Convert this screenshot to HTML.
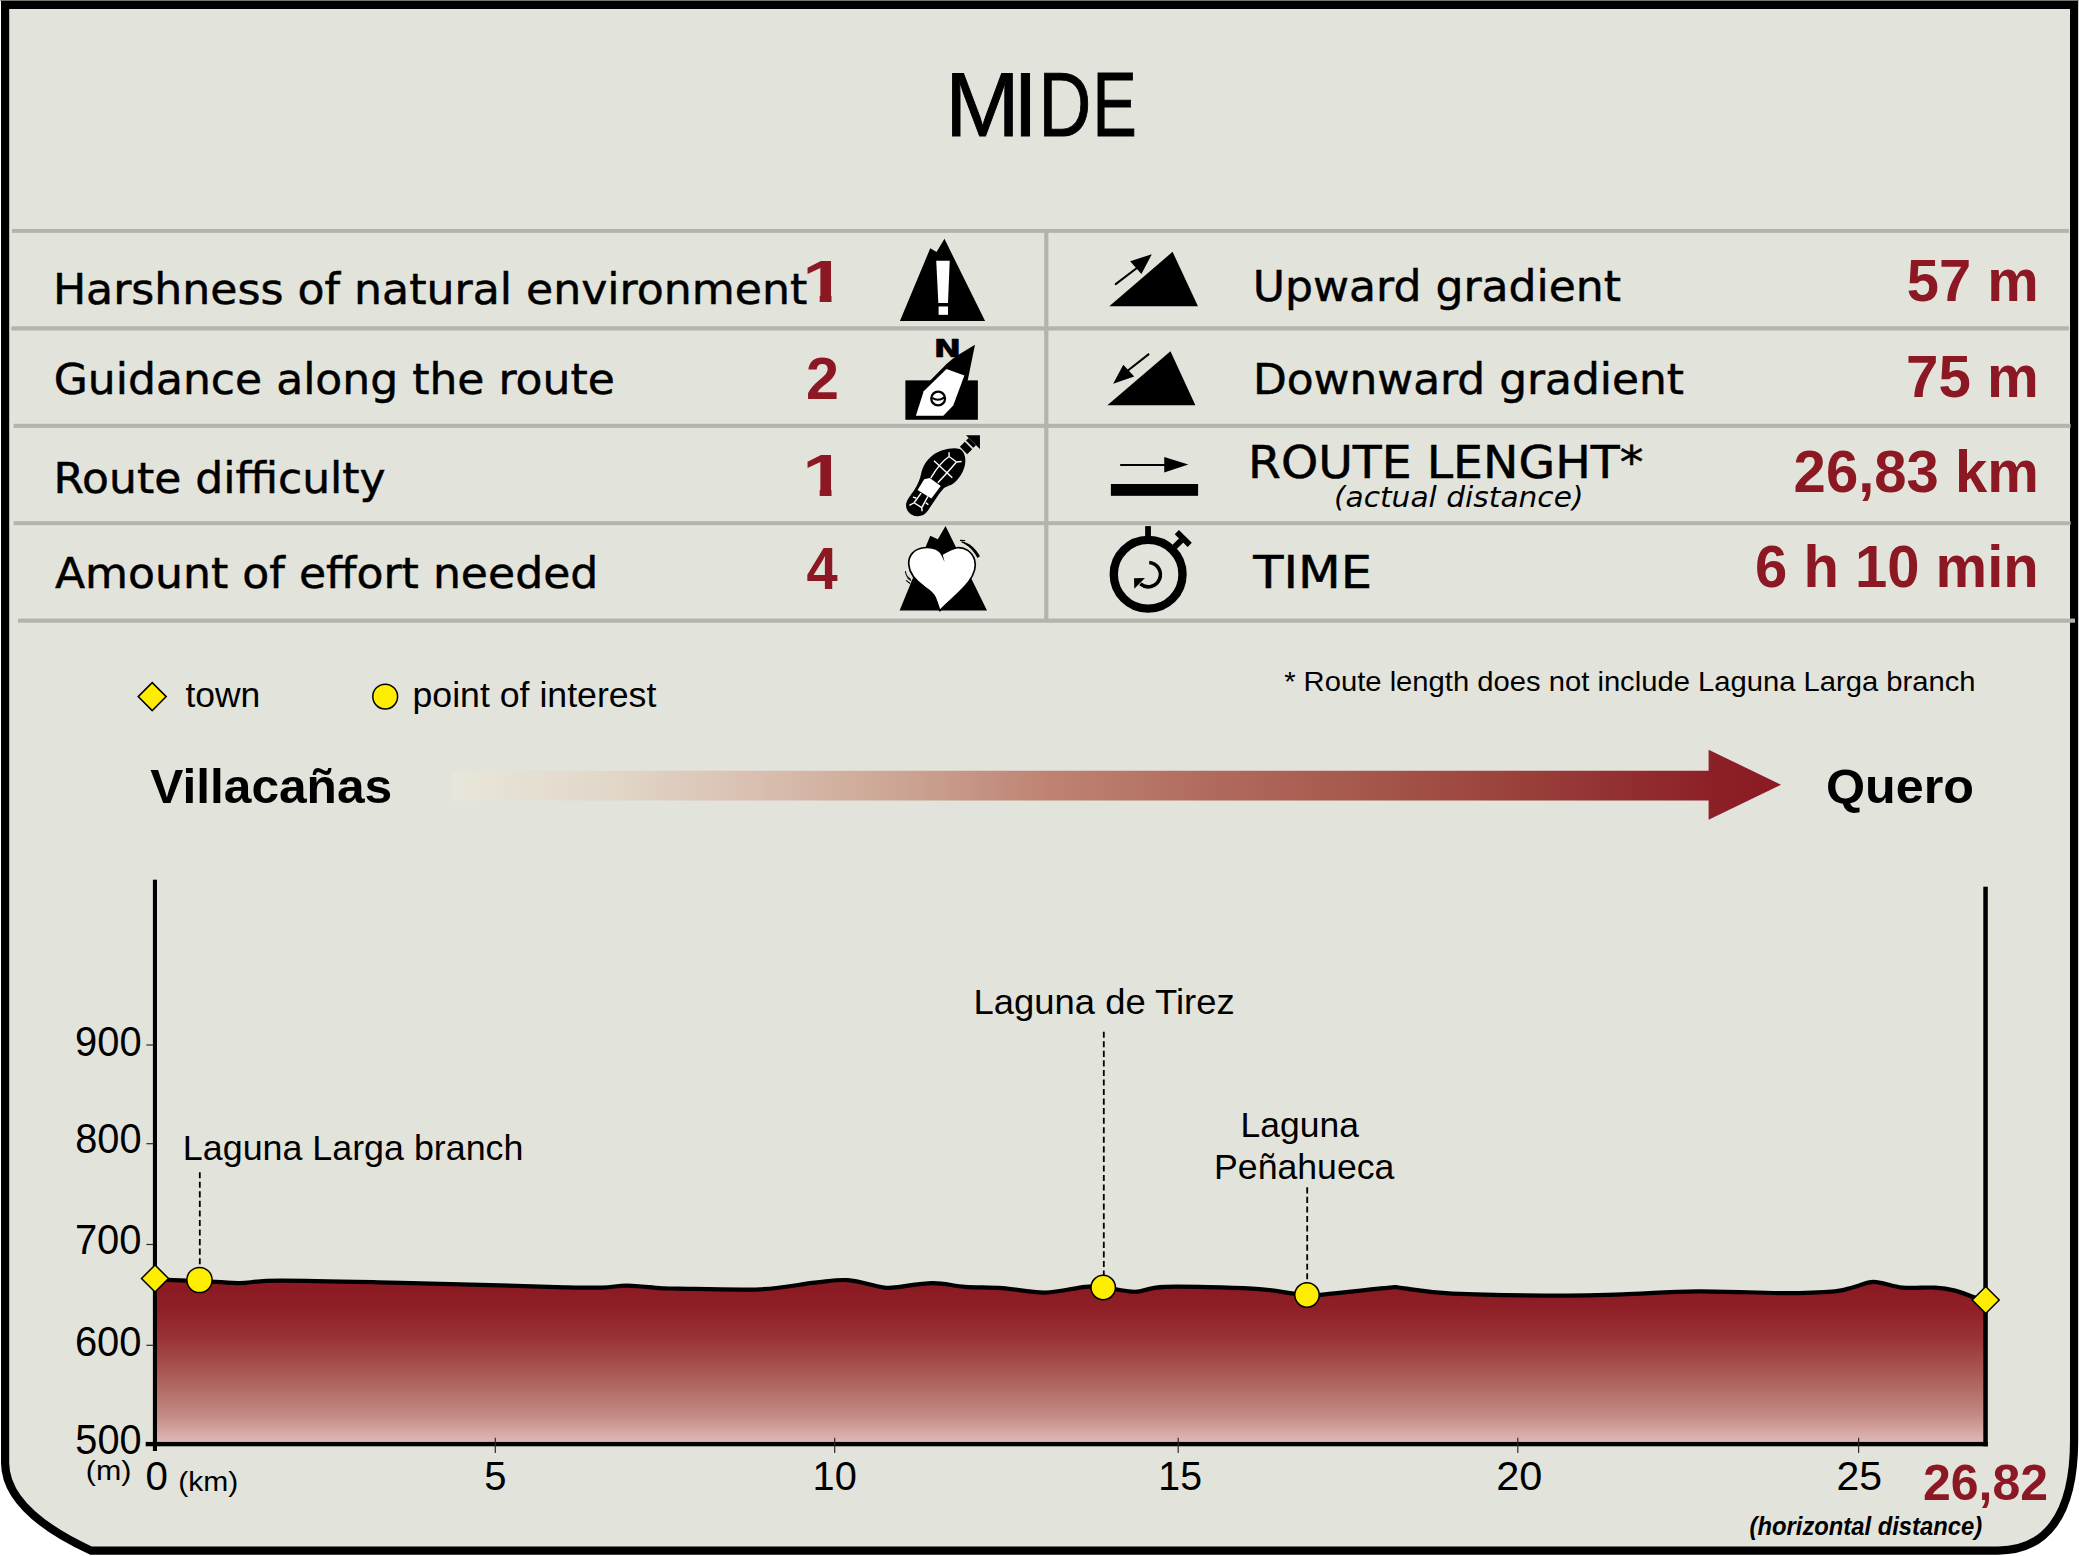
<!DOCTYPE html>
<html lang="en">
<head>
<meta charset="utf-8">
<title>MIDE</title>
<style>
html,body{margin:0;padding:0;background:#fff;}
body{width:2079px;height:1556px;overflow:hidden;}
svg{display:block;}
text{white-space:pre;}
.v{font-family:"DejaVu Sans","Liberation Sans",sans-serif;fill:#000;stroke:#000;stroke-width:0.5px;}
.vi{font-family:"DejaVu Sans","Liberation Sans",sans-serif;font-style:italic;fill:#000;}
.a{font-family:"Liberation Sans","DejaVu Sans",sans-serif;fill:#000;}
.r{font-family:"Liberation Sans","DejaVu Sans",sans-serif;font-weight:bold;fill:#8c1823;}
.b{font-family:"Liberation Sans","DejaVu Sans",sans-serif;font-weight:bold;fill:#000;}
.vb{font-family:"DejaVu Sans","Liberation Sans",sans-serif;font-weight:bold;fill:#000;}
.bi{font-family:"Liberation Sans","DejaVu Sans",sans-serif;font-weight:bold;font-style:italic;fill:#000;}
</style>
</head>
<body>
<svg width="2079" height="1556" viewBox="0 0 2079 1556">
<defs>
<linearGradient id="garrow" gradientUnits="userSpaceOnUse" x1="452" y1="0" x2="1781" y2="0">
<stop offset="0" stop-color="#e8e6da"/>
<stop offset="0.113" stop-color="#e2d8ca"/>
<stop offset="0.226" stop-color="#d9c0b1"/>
<stop offset="0.339" stop-color="#cca493"/>
<stop offset="0.451" stop-color="#be8272"/>
<stop offset="0.576" stop-color="#b06a5d"/>
<stop offset="0.700" stop-color="#a4554a"/>
<stop offset="0.824" stop-color="#983c38"/>
<stop offset="0.948" stop-color="#8c2027"/>
<stop offset="1" stop-color="#8b1a23"/>
</linearGradient>
<linearGradient id="gfill" gradientUnits="userSpaceOnUse" x1="0" y1="1287" x2="0" y2="1442">
<stop offset="0" stop-color="#8c1a23"/>
<stop offset="0.15" stop-color="#8f2028"/>
<stop offset="0.34" stop-color="#9a3437"/>
<stop offset="0.50" stop-color="#a5504c"/>
<stop offset="0.66" stop-color="#b36b66"/>
<stop offset="0.83" stop-color="#c58b85"/>
<stop offset="1" stop-color="#deb9b7"/>
</linearGradient>
</defs>

<!-- frame -->
<rect x="0" y="0" width="2079" height="1" fill="#9a9a96"/>
<path d="M5.1,4.8 H2074.1 V1440 C2074.1,1518 2044,1550.6 1998,1550.6 H91 Q5.6,1511 5.1,1463 Z" fill="#e2e3db" stroke="#000" stroke-width="8.2" stroke-linejoin="miter"/>
<!-- table lines -->
<g fill="#b3b4ad">
<rect x="12" y="229" width="2057" height="3.9"/>
<rect x="11.4" y="326.3" width="2057.4" height="4.2"/>
<rect x="13.6" y="423.8" width="2057" height="4.1"/>
<rect x="13.6" y="521.2" width="2057" height="3.9"/>
<rect x="18" y="618.6" width="2057" height="4.1"/>
<rect x="1044.2" y="231" width="4.2" height="390"/>
</g>
<!-- title -->
<text class="a" font-size="90" y="135.6" stroke="#000" stroke-width="1"><tspan x="945.20" textLength="74.41" lengthAdjust="spacingAndGlyphs">M</tspan><tspan x="1013.30" textLength="24.41" lengthAdjust="spacingAndGlyphs">I</tspan><tspan x="1038.43" textLength="52.75" lengthAdjust="spacingAndGlyphs">D</tspan><tspan x="1092.48" textLength="44.24" lengthAdjust="spacingAndGlyphs">E</tspan></text>
<!-- table text -->
<text class="v" font-size="43" transform="translate(52.89,303.60) scale(1.0273,1)">Harshness of natural environment</text>
<text class="v" font-size="43" transform="translate(53.74,393.90) scale(1.0243,1)">Guidance along the route</text>
<text class="v" font-size="43" transform="translate(53.50,492.60) scale(1.0238,1)">Route difficulty</text>
<text class="v" font-size="43" transform="translate(54.89,588.20) scale(1.0264,1)">Amount of effort needed</text>
<clipPath id="c1a"><path d="M800,246.89999999999998 H831.5 V305.9 H819.7 V288.9 H800 Z"/></clipPath><g clip-path="url(#c1a)"><text class="r" font-size="58.6" transform="translate(802.15,301.90) scale(1.3250,1)">1</text></g>
<text class="r" font-size="58.6" transform="translate(806.08,398.90) scale(1.0124,1)">2</text>
<clipPath id="c1b"><path d="M800,441.2 H831.5 V500.2 H819.7 V483.2 H800 Z"/></clipPath><g clip-path="url(#c1b)"><text class="r" font-size="58.6" transform="translate(802.15,496.20) scale(1.3250,1)">1</text></g>
<text class="r" font-size="58.6" transform="translate(806.59,589.10) scale(0.9571,1)">4</text>
<text class="v" font-size="43" transform="translate(1252.81,300.50) scale(1.0254,1)">Upward gradient</text>
<text class="v" font-size="43" transform="translate(1252.91,393.50) scale(1.0212,1)">Downward gradient</text>
<text class="v" font-size="44" transform="translate(1247.97,478.00) scale(1.0767,1)">ROUTE LENGHT*</text>
<text class="vi" font-size="28.5" transform="translate(1333.96,507.30) scale(1.0405,1)">(actual distance)</text>
<text class="v" font-size="45" transform="translate(1253.27,588.20) scale(1.1001,1)">TIME</text>
<text class="r" font-size="58.6" transform="translate(1906.72,301.10) scale(0.9887,1)">57 m</text>
<text class="r" font-size="58.6" transform="translate(1906.01,396.50) scale(0.9941,1)">75 m</text>
<text class="r" font-size="58.6" transform="translate(1793.62,492.40) scale(0.9901,1)">26,83 km</text>
<text class="r" font-size="58.6" transform="translate(1755.12,587.40) scale(0.9897,1)">6 h 10 min</text>
<!-- icon: harshness (mountain with exclamation) -->
<g transform="translate(880,230) scale(0.064261)">
<polygon points="310,1415 1635,1415 1003,138 880,342 782,285" fill="#000"/>
<polygon points="875,480 1085,480 1058,1135 908,1135" fill="#fff"/>
<rect x="912" y="1190" width="146" height="130" fill="#fff"/>
</g>
<!-- icon: guidance (compass) -->
<g transform="translate(880,328) scale(0.064261)">
<rect x="395" y="815" width="1128" height="613" fill="#000"/>
<path d="M1478,262 L1215,422 Q1110,490 1035,560 L770,830 L1362,830 Z" fill="#000"/>
<polygon points="1035,638 1313,738 1140,1205 985,1365 558,1365 680,985" fill="#fff"/>
<circle cx="905" cy="1097" r="107" fill="#fff" stroke="#000" stroke-width="36"/>
<path d="M812,1088 Q905,1150 1000,1080" fill="none" stroke="#000" stroke-width="32"/>
</g>
<text class="vb" font-size="24.8" transform="translate(933.74,356.90) scale(1.3169,1)" stroke="#000" stroke-width="0.7">N</text>
<!-- icon: route difficulty (boot sole) -->
<g transform="translate(880,425) scale(0.064261)">
<path d="M1240,372 C1300,400 1340,480 1325,600 C1310,720 1230,850 1130,920 C1080,950 1010,960 970,1010 C900,1090 800,1250 740,1340 C700,1400 640,1425 570,1420 C470,1410 400,1330 405,1240 C410,1170 480,1090 540,1000 C590,920 620,850 640,760 C660,650 720,550 820,470 C920,400 1100,340 1240,372 Z" fill="#000"/>
<polygon points="1243,338 1320,262 1435,378 1357,454" fill="#000"/>
<polygon points="1338.5,242.5 1380.5,200.5 1493.5,313.5 1451.5,355.5" fill="#000"/>
<polygon points="1338,158 1555,158 1555,375" fill="#000"/>
<g fill="none" stroke="#fff" stroke-width="22">
<path d="M1075,490 Q930,590 790,825"/>
<path d="M1190,575 Q1050,740 900,900"/>
<path d="M1075,490 L1190,575"/>
<path d="M1075,490 L1075,425"/>
<path d="M1190,575 L1270,568"/>
<path d="M840,555 L1125,820"/>
<path d="M640,1060 L530,1210"/>
<path d="M745,1110 L650,1285"/>
<path d="M530,1210 L650,1285"/>
<path d="M530,1210 L458,1252"/>
<path d="M650,1285 L655,1342"/>
<path d="M512,1122 L562,1136"/>
<path d="M712,1208 L752,1242"/>
</g>
<polygon points="688,845 775,825 945,950 800,1145 585,1012" fill="#fff"/>
</g>
<!-- icon: effort (heart on mountain) -->
<g transform="translate(880,520) scale(0.064261)">
<polygon points="305,1410 1665,1410 1020,92 900,300 782,245" fill="#000"/>
<path d="M965,535 C900,440 780,420 680,432 C520,452 440,560 447,690 C455,830 560,950 700,1050 C790,1110 830,1140 860,1210 C890,1280 910,1350 930,1412 C1050,1280 1250,1130 1380,960 C1470,840 1500,720 1472,620 C1430,490 1320,420 1200,432 C1120,442 1040,490 965,535 Z" fill="#fff" stroke="#000" stroke-width="26" stroke-linejoin="round"/>
<path d="M945,530 L975,535 L1005,655 Z" fill="#000"/>
<path d="M1266,330 C1385,352 1485,430 1556,565 L1515,590 C1450,470 1370,392 1268,352 Z" fill="#000"/>
<path d="M1245,318 L1325,322" fill="none" stroke="#000" stroke-width="18"/>
<path d="M395,795 C400,850 430,900 480,925" fill="none" stroke="#000" stroke-width="16"/>
<path d="M405,940 L470,988" fill="none" stroke="#000" stroke-width="18"/>
<path d="M425,905 L490,950" fill="none" stroke="#000" stroke-width="14"/>
</g>
<!-- icon: upward gradient -->
<g transform="translate(1090,235) scale(0.064261)">
<polygon points="300,1108 1680,1108 1285,262" fill="#000"/>
<path d="M400,765 L760,490" stroke="#000" stroke-width="32" stroke-linecap="round" fill="none"/>
<polygon points="625,408 962,298 800,605" fill="#000"/>
</g>
<!-- icon: downward gradient -->
<g transform="translate(1090,330) scale(0.064261)">
<polygon points="270,1170 1640,1170 1252,330" fill="#000"/>
<path d="M920,372 L590,630" stroke="#000" stroke-width="32" stroke-linecap="butt" fill="none"/>
<polygon points="518,540 688,725 360,835" fill="#000"/>
</g>
<!-- icon: route length -->
<g transform="translate(1090,425) scale(0.064261)">
<path d="M482,622 L1160,622" stroke="#000" stroke-width="32" stroke-linecap="round" fill="none"/>
<polygon points="1155,498 1530,615 1155,738" fill="#000"/>
<rect x="325" y="918" width="1357" height="184" fill="#000"/>
</g>
<!-- icon: time (stopwatch) -->
<g transform="translate(1090,520) scale(0.064261)">
<circle cx="905" cy="845" r="535" fill="none" stroke="#000" stroke-width="130"/>
<rect x="858" y="95" width="90" height="200" fill="#000"/>
<path d="M1317,418 L1420,316" stroke="#000" stroke-width="92" fill="none"/>
<path d="M1351,190 L1552,388" stroke="#000" stroke-width="92" fill="none"/>
<path d="M921.6,660.7 A190,190 0 1 1 782.9,995.5" fill="none" stroke="#000" stroke-width="55"/>
<polygon points="685,905 855,902 690,1070" fill="#000"/>
</g>

<!-- legend -->
<path d="M152.2,682.6 L166.2,696.6 L152.2,710.6 L138.2,696.6 Z" fill="#ffed00" stroke="#000" stroke-width="1.5"/>
<circle cx="385.2" cy="696.6" r="12.4" fill="#ffed00" stroke="#000" stroke-width="1.5"/>
<text class="a" font-size="35" transform="translate(185.39,706.70) scale(1.0134,1)">town</text>
<text class="a" font-size="35" transform="translate(412.51,706.70) scale(1.0192,1)">point of interest</text>
<text class="a" font-size="28.5" transform="translate(1284.14,691.20) scale(1.0248,1)">* Route length does not include Laguna Larga branch</text>
<!-- direction arrow -->
<text class="b" font-size="49" transform="translate(150.20,802.60) scale(1.0133,1)">Villacañas</text>
<text class="b" font-size="49" transform="translate(1825.95,802.80) scale(1.0256,1)">Quero</text>
<path d="M452,770.7 H1708.6 V749.7 L1781,784.7 L1708.6,819.7 V800.5 H452 Z" fill="url(#garrow)"/>
<!-- elevation chart -->
<path d="M155.0,1279.3 C165.0,1279.7 200.8,1281.2 215.0,1281.8 C229.2,1282.4 229.2,1283.3 240.0,1283.1 C250.8,1282.9 255.0,1280.7 280.0,1280.6 C305.0,1280.5 355.0,1281.8 390.0,1282.6 C425.0,1283.3 460.8,1284.3 490.0,1285.1 C519.2,1285.9 546.2,1286.9 565.0,1287.3 C583.8,1287.7 592.1,1287.9 602.5,1287.6 C612.9,1287.3 617.9,1285.5 627.5,1285.6 C637.1,1285.7 651.7,1287.6 660.0,1288.1 C668.3,1288.6 660.8,1288.4 677.5,1288.6 C694.2,1288.8 737.1,1290.3 760.0,1289.3 C782.9,1288.3 800.4,1284.1 815.0,1282.6 C829.6,1281.1 836.7,1279.4 847.5,1280.1 C858.3,1280.8 872.5,1285.5 880.0,1286.8 C887.5,1288.0 883.8,1288.2 892.5,1287.6 C901.2,1287.0 920.4,1283.2 932.5,1283.1 C944.6,1283.0 953.3,1286.0 965.0,1286.8 C976.7,1287.6 989.2,1287.1 1002.5,1288.1 C1015.8,1289.1 1031.2,1292.8 1045.0,1292.6 C1058.8,1292.4 1075.3,1287.7 1085.0,1286.8 C1094.7,1285.9 1094.7,1286.3 1103.0,1287.1 C1111.3,1287.9 1124.7,1291.8 1135.0,1291.8 C1145.3,1291.8 1145.4,1287.3 1165.0,1286.8 C1184.6,1286.3 1231.7,1287.5 1252.5,1288.6 C1273.3,1289.6 1280.9,1292.0 1290.0,1293.1 C1299.1,1294.2 1301.2,1294.9 1307.0,1295.1 C1312.8,1295.3 1311.2,1295.5 1325.0,1294.3 C1338.8,1293.0 1377.1,1288.6 1390.0,1287.6 C1402.9,1286.6 1392.1,1287.1 1402.5,1288.1 C1412.9,1289.1 1425.4,1292.3 1452.5,1293.6 C1479.6,1294.8 1536.7,1295.5 1565.0,1295.6 C1593.3,1295.7 1600.4,1295.0 1622.5,1294.3 C1644.6,1293.6 1670.4,1291.5 1697.5,1291.3 C1724.6,1291.1 1762.1,1293.1 1785.0,1293.1 C1807.9,1293.1 1823.3,1292.3 1835.0,1291.3 C1846.7,1290.2 1848.5,1288.4 1855.0,1286.8 C1861.5,1285.2 1865.8,1281.7 1873.7,1281.8 C1881.6,1281.9 1892.3,1286.6 1902.5,1287.6 C1912.7,1288.6 1926.2,1287.1 1935.0,1287.6 C1943.8,1288.1 1948.3,1288.9 1955.0,1290.6 C1961.7,1292.3 1969.9,1295.9 1975.0,1297.6 C1980.1,1299.3 1983.9,1300.1 1985.7,1300.6 L1985.7,1444 L155,1444 Z" fill="url(#gfill)"/>
<path d="M155.0,1279.3 C165.0,1279.7 200.8,1281.2 215.0,1281.8 C229.2,1282.4 229.2,1283.3 240.0,1283.1 C250.8,1282.9 255.0,1280.7 280.0,1280.6 C305.0,1280.5 355.0,1281.8 390.0,1282.6 C425.0,1283.3 460.8,1284.3 490.0,1285.1 C519.2,1285.9 546.2,1286.9 565.0,1287.3 C583.8,1287.7 592.1,1287.9 602.5,1287.6 C612.9,1287.3 617.9,1285.5 627.5,1285.6 C637.1,1285.7 651.7,1287.6 660.0,1288.1 C668.3,1288.6 660.8,1288.4 677.5,1288.6 C694.2,1288.8 737.1,1290.3 760.0,1289.3 C782.9,1288.3 800.4,1284.1 815.0,1282.6 C829.6,1281.1 836.7,1279.4 847.5,1280.1 C858.3,1280.8 872.5,1285.5 880.0,1286.8 C887.5,1288.0 883.8,1288.2 892.5,1287.6 C901.2,1287.0 920.4,1283.2 932.5,1283.1 C944.6,1283.0 953.3,1286.0 965.0,1286.8 C976.7,1287.6 989.2,1287.1 1002.5,1288.1 C1015.8,1289.1 1031.2,1292.8 1045.0,1292.6 C1058.8,1292.4 1075.3,1287.7 1085.0,1286.8 C1094.7,1285.9 1094.7,1286.3 1103.0,1287.1 C1111.3,1287.9 1124.7,1291.8 1135.0,1291.8 C1145.3,1291.8 1145.4,1287.3 1165.0,1286.8 C1184.6,1286.3 1231.7,1287.5 1252.5,1288.6 C1273.3,1289.6 1280.9,1292.0 1290.0,1293.1 C1299.1,1294.2 1301.2,1294.9 1307.0,1295.1 C1312.8,1295.3 1311.2,1295.5 1325.0,1294.3 C1338.8,1293.0 1377.1,1288.6 1390.0,1287.6 C1402.9,1286.6 1392.1,1287.1 1402.5,1288.1 C1412.9,1289.1 1425.4,1292.3 1452.5,1293.6 C1479.6,1294.8 1536.7,1295.5 1565.0,1295.6 C1593.3,1295.7 1600.4,1295.0 1622.5,1294.3 C1644.6,1293.6 1670.4,1291.5 1697.5,1291.3 C1724.6,1291.1 1762.1,1293.1 1785.0,1293.1 C1807.9,1293.1 1823.3,1292.3 1835.0,1291.3 C1846.7,1290.2 1848.5,1288.4 1855.0,1286.8 C1861.5,1285.2 1865.8,1281.7 1873.7,1281.8 C1881.6,1281.9 1892.3,1286.6 1902.5,1287.6 C1912.7,1288.6 1926.2,1287.1 1935.0,1287.6 C1943.8,1288.1 1948.3,1288.9 1955.0,1290.6 C1961.7,1292.3 1969.9,1295.9 1975.0,1297.6 C1980.1,1299.3 1983.9,1300.1 1985.7,1300.6" fill="none" stroke="#000" stroke-width="4.2" stroke-linejoin="round"/>
<g fill="#000">
<rect x="152.9" y="879.7" width="4.1" height="571.3"/>
<rect x="145.7" y="1441.9" width="1842.1" height="4.4"/>
<rect x="1983.3" y="886.7" width="4.5" height="559.6"/>
</g>
<g stroke="#2a2a2a" stroke-width="1.2" fill="none">
<path d="M146.4,1045 H153.5"/>
<path d="M146.4,1143.7 H153.5"/>
<path d="M146.4,1244.5 H153.5"/>
<path d="M146.4,1345.3 H153.5"/>
<path d="M495.3,1437.7 V1452.9"/>
<path d="M834.7,1437.7 V1452.9"/>
<path d="M1178.2,1437.7 V1452.9"/>
<path d="M1517.8,1437.7 V1452.9"/>
<path d="M1858.6,1437.7 V1452.9"/>
</g>
<g stroke="#000" stroke-width="1.8" stroke-dasharray="6.1 3.45" fill="none">
<path d="M199.8,1172.2 V1268"/>
<path d="M1103.8,1031.7 V1276"/>
<path d="M1307.2,1187.3 V1283"/>
</g>
<path d="M155,1265.0 L168.5,1278.5 L155,1292.0 L141.5,1278.5 Z" fill="#ffed00" stroke="#000" stroke-width="1.5"/>
<path d="M1985.7,1286.5 L1999.2,1300 L1985.7,1313.5 L1972.2,1300 Z" fill="#ffed00" stroke="#000" stroke-width="1.5"/>
<circle cx="199.5" cy="1280" r="12.6" fill="#ffed00" stroke="#000" stroke-width="1.5"/>
<circle cx="1103.2" cy="1287.5" r="12.2" fill="#ffed00" stroke="#000" stroke-width="1.5"/>
<circle cx="1307" cy="1295" r="12.2" fill="#ffed00" stroke="#000" stroke-width="1.5"/>
<!-- chart labels -->
<text class="a" font-size="42.5" transform="translate(75.07,1055.80) scale(0.9376,1)">900</text>
<text class="a" font-size="42.5" transform="translate(75.22,1152.60) scale(0.9355,1)">800</text>
<text class="a" font-size="42.5" transform="translate(74.88,1253.60) scale(0.9404,1)">700</text>
<text class="a" font-size="42.5" transform="translate(74.88,1356.00) scale(0.9404,1)">600</text>
<text class="a" font-size="42.5" transform="translate(75.31,1453.60) scale(0.9341,1)">500</text>
<text class="a" font-size="28" transform="translate(85.86,1479.90) scale(1.0843,1)">(m)</text>
<text class="a" font-size="40" transform="translate(145.44,1490.30) scale(1.0078,1)">0</text>
<text class="a" font-size="27.5" transform="translate(178.35,1490.70) scale(1.0911,1)">(km)</text>
<text class="a" font-size="40" transform="translate(484.20,1490.30) scale(1.0000,1)">5</text>
<text class="a" font-size="40" transform="translate(812.62,1490.30) scale(0.9937,1)">10</text>
<text class="a" font-size="40" transform="translate(1158.36,1490.30) scale(0.9812,1)">15</text>
<text class="a" font-size="40" transform="translate(1496.33,1490.30) scale(1.0354,1)">20</text>
<text class="a" font-size="40" transform="translate(1836.55,1490.30) scale(1.0233,1)">25</text>
<text class="r" font-size="50.4" transform="translate(1923.01,1499.90) scale(0.9914,1)">26,82</text>
<text class="bi" font-size="26.6" transform="translate(1749.55,1535.20) scale(0.8947,1)">(horizontal distance)</text>
<text class="a" font-size="36" transform="translate(182.86,1159.70) scale(0.9953,1)">Laguna Larga branch</text>
<text class="a" font-size="36" transform="translate(973.62,1014.10) scale(1.0110,1)">Laguna de Tirez</text>
<text class="a" font-size="36" transform="translate(1240.59,1136.80) scale(0.9855,1)">Laguna</text>
<text class="a" font-size="36" transform="translate(1214.08,1179.30) scale(0.9902,1)">Peñahueca</text>
</svg>
</body>
</html>
